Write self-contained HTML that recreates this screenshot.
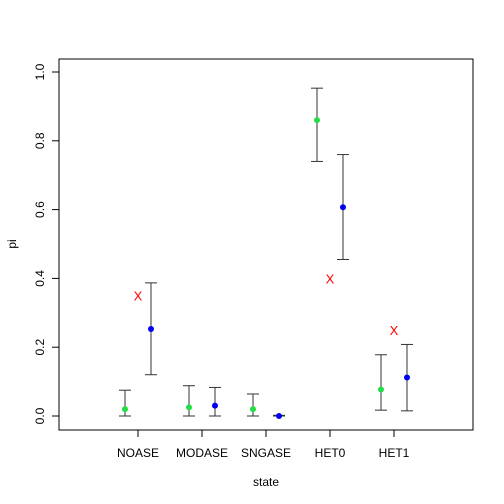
<!DOCTYPE html>
<html><head><meta charset="utf-8"><style>body{margin:0;background:#fff}svg{display:block;font-family:"Liberation Sans",Arial,sans-serif}</style></head>
<body>
<svg id="chart" width="504" height="504"></svg>
<script>
const categories = ["NOASE","MODASE","SNGASE","HET0","HET1"];
const greenVals = [0.02,0.025,0.02,0.86,0.077];
const greenLo = [0.0,0.0,0.0,0.74,0.017];
const greenHi = [0.075,0.088,0.064,0.953,0.178];
const blueVals = [0.253,0.03,0.0,0.607,0.112];
const blueLo = [0.12,0.0,0.0,0.455,0.015];
const blueHi = [0.387,0.083,0.002,0.76,0.208];
const xMarks = [0.35,null,null,0.40,0.25];
const yTicks = [0,0.2,0.4,0.6,0.8,1.0];
const yTickLabels = ["0.0","0.2","0.4","0.6","0.8","1.0"];

const svg = document.getElementById('chart');
const NS = "http://www.w3.org/2000/svg";
function xPos(i){return 138 + i*64;}
function yPos(v){return 416 - v*344;}
function mk(tag, attrs, parent){const e=document.createElementNS(NS,tag);for(const k in attrs)e.setAttribute(k,attrs[k]);(parent||svg).appendChild(e);return e;}

const frame = mk('rect',{x:59,y:59,width:414,height:371,fill:'none',stroke:'#000','stroke-width':1});



const yAxis = mk('g',{});


mk('line',{x1:59,x2:59,y1:yPos(0),y2:yPos(1),stroke:'#000'},yAxis);
yTicks.forEach((t,i)=>{
  mk('line',{x1:52,x2:59,y1:yPos(t),y2:yPos(t),stroke:'#000'},yAxis);
  const tx = mk('text',{x:0,y:0,transform:`translate(44,${yPos(t)}) rotate(-90)`,'text-anchor':'middle','font-size':12},yAxis);
  tx.textContent = yTickLabels[i];
  
  
});

const xAxis = mk('g',{});


mk('line',{x1:xPos(0),x2:xPos(4),y1:430,y2:430,stroke:'#000'},xAxis);
categories.forEach((c,i)=>{
  mk('line',{x1:xPos(i),x2:xPos(i),y1:430,y2:437,stroke:'#000'},xAxis);
  const tx = mk('text',{x:xPos(i),y:457,'text-anchor':'middle','font-size':12},xAxis);
  tx.textContent = c;
  
  
});

const xt = mk('text',{x:266,y:486,'text-anchor':'middle','font-size':12});
xt.textContent='state';


const yt = mk('text',{x:0,y:0,transform:'translate(16,244) rotate(-90)','text-anchor':'middle','font-size':12});
yt.textContent='pi';



function series(vals,lo,hi,off,color,name){
  vals.forEach((v,i)=>{
    const x = xPos(i)+off;
    const g = mk('g',{});
    
    
    mk('line',{x1:x,x2:x,y1:yPos(lo[i]),y2:yPos(hi[i]),stroke:'#333'},g);
    mk('line',{x1:x-6,x2:x+6,y1:yPos(lo[i]),y2:yPos(lo[i]),stroke:'#333'},g);
    mk('line',{x1:x-6,x2:x+6,y1:yPos(hi[i]),y2:yPos(hi[i]),stroke:'#333'},g);
    mk('circle',{cx:x,cy:yPos(v),r:3,fill:color},g);
  });
}
series(greenVals,greenLo,greenHi,-13,'#22dd44','green-point');
series(blueVals,blueLo,blueHi,13,'#0000ee','blue-point');

xMarks.forEach((v,i)=>{
  if(v===null) return;
  const t = mk('text',{x:xPos(i),y:yPos(v)+5,'text-anchor':'middle','font-size':13,fill:'#ff0000'});
  t.textContent='X';
  
  
});
</script>
</body></html>
